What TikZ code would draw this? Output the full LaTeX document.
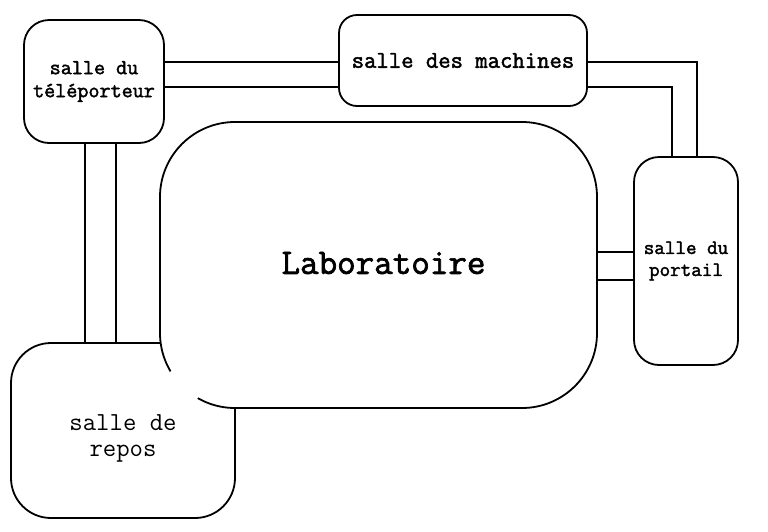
\documentclass[tikz,border=0pt]{standalone}
\usepackage{fontspec}
\setmonofont{Latin Modern Mono}[BoldFont={Latin Modern Mono},BoldFeatures={FakeBold=2}]

\begin{document}
\begin{tikzpicture}[x=1pt,y=-1pt,
    room/.style={draw,line width=1.8pt,fill=white,inner sep=0pt,align=center},
    corridor/.style={line width=1.4pt}]
  \useasboundingbox (0,0) rectangle (768,531);

  % salle de repos (sous le laboratoire)
  \node[room,rounded corners=40pt,minimum width=224pt,minimum height=175pt,
        label={[font={\ttfamily\fontsize{26}{26}\selectfont},align=center,
                yshift=-8pt]center:salle de\\repos}]
        (repos) at (123,430.5) {};

  % laboratoire
  \node[room,rounded corners=75pt,minimum width=437pt,minimum height=286pt,
        label={[font={\ttfamily\bfseries\fontsize{36}{40}\selectfont},
                xshift=5pt,yshift=2pt]center:Laboratoire}]
        (lab) at (378.5,265) {};
  % coin efface
  \fill[white] (184,385) circle (19pt);

  % autres salles
  \node[room,rounded corners=25pt,minimum width=140pt,minimum height=123pt,
        font={\ttfamily\bfseries\fontsize{21.5}{23}\selectfont}]
        (tele) at (94,81.5) {salle du\\t\'el\'eporteur};
  \node[room,rounded corners=18pt,minimum width=248pt,minimum height=91pt,
        font={\ttfamily\bfseries\fontsize{24}{25}\selectfont}]
        (mach) at (463,60.5) {salle des machines};
  \node[room,rounded corners=25pt,minimum width=104pt,minimum height=208pt,
        font={\ttfamily\bfseries\fontsize{20.5}{22}\selectfont}]
        (portail) at (686,261) {salle du\\portail};

  % couloirs
  \draw[corridor] (tele.east |- 0,62) -- (mach.west |- 0,62);
  \draw[corridor] (tele.east |- 0,87) -- (mach.west |- 0,87);
  \draw[corridor] (mach.east |- 0,62) -| ([xshift=11pt]portail.north);
  \draw[corridor] (mach.east |- 0,87) -| ([xshift=-14pt]portail.north);
  \draw[corridor] ([xshift=-9pt]tele.south) -- ([xshift=-9pt]tele.south |- repos.north);
  \draw[corridor] ([xshift=22pt]tele.south) -- ([xshift=22pt]tele.south |- repos.north);
  \draw[corridor] (lab.east |- 0,252) -- (portail.west |- 0,252);
  \draw[corridor] (lab.east |- 0,280) -- (portail.west |- 0,280);
\end{tikzpicture}
\end{document}
